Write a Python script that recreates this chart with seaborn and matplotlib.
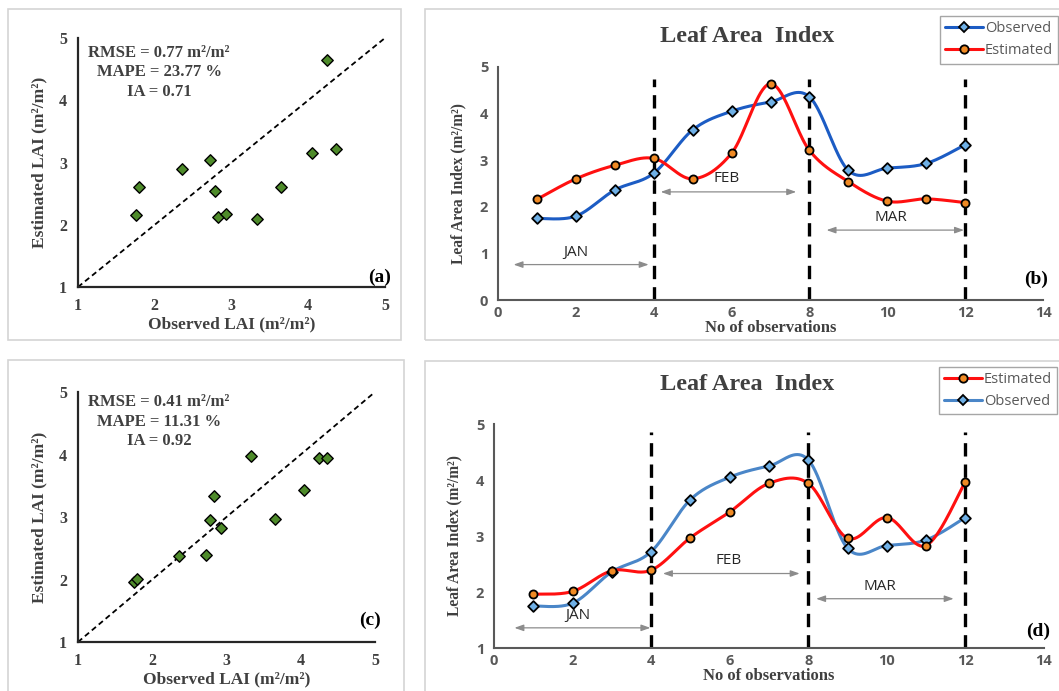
import numpy as np
import pandas as pd
import matplotlib
matplotlib.use("Agg")
import matplotlib.pyplot as plt
import seaborn as sns
from matplotlib.lines import Line2D
from matplotlib.patches import Rectangle

# ---------------- data ----------------
obs_no = [1, 2, 3, 4, 5, 6, 7, 8, 9, 10, 11, 12]
observed = [1.75, 1.80, 2.36, 2.72, 3.65, 4.05, 4.25, 4.36, 2.78, 2.83, 2.93, 3.33]
estimated_b = [2.16, 2.60, 2.89, 3.04, 2.60, 3.15, 4.64, 3.21, 2.54, 2.12, 2.17, 2.09]
estimated_d = [1.96, 2.01, 2.38, 2.39, 2.97, 3.43, 3.94, 3.94, 2.96, 3.33, 2.83, 3.97]
stats_a = ["RMSE = 0.77 m²/m²", "MAPE = 23.77 %", "IA = 0.71"]
stats_c = ["RMSE = 0.41 m²/m²", "MAPE = 11.31 %", "IA = 0.92"]
month_bounds = [4, 8, 12]
months = ["JAN", "FEB", "MAR"]
scatter_ticks = [1, 2, 3, 4, 5]
line_xticks = [0, 2, 4, 6, 8, 10, 12, 14]

sns.set_theme(style="white")
plt.rcParams['font.family'] = ['Liberation Serif', 'DejaVu Serif']

W, H = 1059, 691
fig = plt.figure(figsize=(W / 100, H / 100), dpi=100)
fig.patch.set_facecolor("white")


def px(x0, y0, x1, y1):
    return [x0 / W, 1 - y1 / H, (x1 - x0) / W, (y1 - y0) / H]


# panel frames
for (x0, y0, x1, y1) in [(8, 9, 401, 340), (425, 9, 1070, 340), (8, 360, 404, 700), (425, 361, 1070, 700)]:
    fig.patches.append(Rectangle((x0 / W, 1 - y1 / H), (x1 - x0) / W, (y1 - y0) / H,
                                 transform=fig.transFigure, fill=False,
                                 edgecolor="#d4d4d4", lw=1.2))

TXT = "#404040"
SANS = ['Open Sans', 'DejaVu Sans']


def excel_smooth(x, y, n=40):
    P = np.column_stack([x, y]).astype(float)
    Pe = np.vstack([P[0], P, P[-1]])
    out = []
    t = np.linspace(0, 1, n)[:, None]
    for i in range(len(P) - 1):
        p0, p1, p2, p3 = Pe[i], Pe[i + 1], Pe[i + 2], Pe[i + 3]
        c1 = p1 + (p2 - p0) / 6.0
        c2 = p2 - (p3 - p1) / 6.0
        seg = (1 - t) ** 3 * p1 + 3 * (1 - t) ** 2 * t * c1 + 3 * (1 - t) * t ** 2 * c2 + t ** 3 * p2
        out.append(seg if i == 0 else seg[1:])
    return np.vstack(out)


def scatter_panel(rect, est, stats, label, label_xy, stat_top):
    ax = fig.add_axes(rect)
    df = pd.DataFrame({"obs": observed, "est": est})
    ax.plot([1, 5], [1, 5], ls=(0, (3, 2)), color="black", lw=1.3, zorder=1)
    sns.scatterplot(data=df, x="obs", y="est", marker="D", s=34, color="#4e8b2a",
                    edgecolor="black", linewidth=1.0, ax=ax, zorder=3)
    ax.set_xlim(1, 5)
    ax.set_ylim(1, 5)
    ax.set_xticks(scatter_ticks)
    ax.set_yticks(scatter_ticks)
    for s in ["top", "right"]:
        ax.spines[s].set_visible(False)
    for s in ["left", "bottom"]:
        ax.spines[s].set_color("#262626")
        ax.spines[s].set_linewidth(1.6)
    ax.tick_params(length=0, pad=8, labelsize=11.5, labelcolor=TXT)
    for lab in ax.get_xticklabels() + ax.get_yticklabels():
        lab.set_fontweight("bold")
    ax.set_xlabel("Observed LAI (m²/m²)", fontsize=12.5, fontweight="bold", color=TXT, labelpad=2)
    ax.set_ylabel("Estimated LAI (m²/m²)", fontsize=12.5, fontweight="bold", color=TXT, labelpad=8)
    ax.set_facecolor("none")
    for i, s in enumerate(stats):
        fig.text(159 / W, 1 - (stat_top + i * 19.5) / H, s, ha="center", va="center",
                 fontsize=12, fontweight="bold", color=TXT)
    fig.text(label_xy[0] / W, 1 - label_xy[1] / H, label, ha="center", va="center",
             fontsize=14, fontweight="bold", color="black")
    return ax


scatter_panel(px(78, 38, 385, 287), estimated_b, stats_a, "(a)", (380, 277), 53)
scatter_panel(px(78, 392, 375, 642), estimated_d, stats_c, "(c)", (370, 620), 402)


def line_panel(rect, est, ylo, obs_color, est_color, order, title_y, legend_box,
               month_pos, label, label_xy):
    ax = fig.add_axes(rect)
    ax.set_facecolor("none")
    for xb in month_bounds:
        ax.plot([xb, xb], [ylo, month_pos["vtop"]], color="black", lw=2.4,
                ls=(0, (4, 2.4)), zorder=1)
    so = excel_smooth(obs_no, observed)
    se = excel_smooth(obs_no, est)
    sns.lineplot(x=so[:, 0], y=so[:, 1], sort=False, estimator=None, color=obs_color,
                 lw=2.2, ax=ax, zorder=2)
    sns.lineplot(x=se[:, 0], y=se[:, 1], sort=False, estimator=None, color=est_color,
                 lw=2.2, ax=ax, zorder=2)
    sns.scatterplot(x=obs_no, y=observed, marker="D", s=30, color="#6fb0e6",
                    edgecolor="black", linewidth=1.3, ax=ax, zorder=4)
    sns.scatterplot(x=obs_no, y=est, marker="o", s=34, color="#f08a24",
                    edgecolor="black", linewidth=1.3, ax=ax, zorder=4)
    ax.set_xlim(0, 14)
    ax.set_ylim(ylo, 5)
    ax.set_xticks(line_xticks)
    ax.set_yticks(list(range(ylo, 6)))
    for s in ["top", "right"]:
        ax.spines[s].set_visible(False)
    for s in ["left", "bottom"]:
        ax.spines[s].set_color("#595959")
        ax.spines[s].set_linewidth(1.5)
    ax.tick_params(axis="y", length=0, pad=7, labelsize=10.5, labelcolor="#595959")
    ax.tick_params(axis="x", length=0, pad=4, labelsize=10.5, labelcolor="#595959")
    for lab in ax.get_xticklabels() + ax.get_yticklabels():
        lab.set_fontweight("bold")
        lab.set_family(SANS)
    ax.set_xlabel("No of observations", fontsize=12, fontweight="bold", color=TXT, labelpad=0)
    ax.set_ylabel("Leaf Area Index (m²/m²)", fontsize=11.2, fontweight="bold", color=TXT, labelpad=10)
    fig.text(747 / W, 1 - title_y / H, "Leaf Area  Index", ha="center", va="center",
             fontsize=17.5, fontweight="bold", color=TXT)
    # month arrows and labels
    for m, (x0, x1, ya, xt, yt) in zip(months, month_pos["arrows"]):
        ax.annotate("", xy=(x1, ya), xytext=(x0, ya),
                    arrowprops=dict(arrowstyle="<|-|>,head_length=0.45,head_width=0.16",
                                    color="#8c8c8c", lw=0.9, shrinkA=0, shrinkB=0))
        ax.text(xt, yt, m, ha="center", va="center", fontsize=11, color="#262626",
                family=SANS)
    h_obs = Line2D([], [], color=obs_color, lw=2.2, marker="D", ms=5.5,
                   mfc="#6fb0e6", mec="black", mew=1.3)
    h_est = Line2D([], [], color=est_color, lw=2.2, marker="o", ms=6,
                   mfc="#f08a24", mec="black", mew=1.3)
    hs = {"Observed": h_obs, "Estimated": h_est}
    x0, y0, x1, y1 = legend_box
    leg = ax.legend([hs[k] for k in order], order, loc="upper right",
                    bbox_to_anchor=(x1 / W, 1 - y0 / H), bbox_transform=fig.transFigure,
                    frameon=True, fancybox=False, edgecolor="#a6a6a6", framealpha=1,
                    prop={"family": SANS, "size": 10.5}, labelcolor="#595959",
                    handlelength=2.6, handletextpad=0.1, borderpad=0.35,
                    labelspacing=0.5, borderaxespad=0)
    leg.get_frame().set_linewidth(1.0)
    fig.text(label_xy[0] / W, 1 - label_xy[1] / H, label, ha="center", va="center",
             fontsize=14, fontweight="bold", color="black")
    return ax


line_panel(px(498, 67, 1043, 300), estimated_b, 0, "#1c5cc4", "#ff1010",
           ["Observed", "Estimated"], 37, (939, 16, 1058, 67),
           {"vtop": 4.75,
            "arrows": [(0.4, 3.87, 0.76, 2.0, 1.02),
                       (4.18, 7.66, 2.32, 5.87, 2.6),
                       (8.44, 11.97, 1.5, 10.1, 1.76)]},
           "(b)", (1036, 279))

line_panel(px(494, 424, 1044, 648), estimated_d, 1, "#4a86c8", "#ff1010",
           ["Estimated", "Observed"], 385, (938, 367, 1057, 418),
           {"vtop": 4.86,
            "arrows": [(0.52, 3.98, 1.36, 2.13, 1.58),
                       (4.3, 7.78, 2.33, 5.96, 2.56),
                       (8.2, 11.7, 1.88, 9.83, 2.1)]},
           "(d)", (1038, 631))

fig.savefig("out.png", dpi=100, facecolor="white")
